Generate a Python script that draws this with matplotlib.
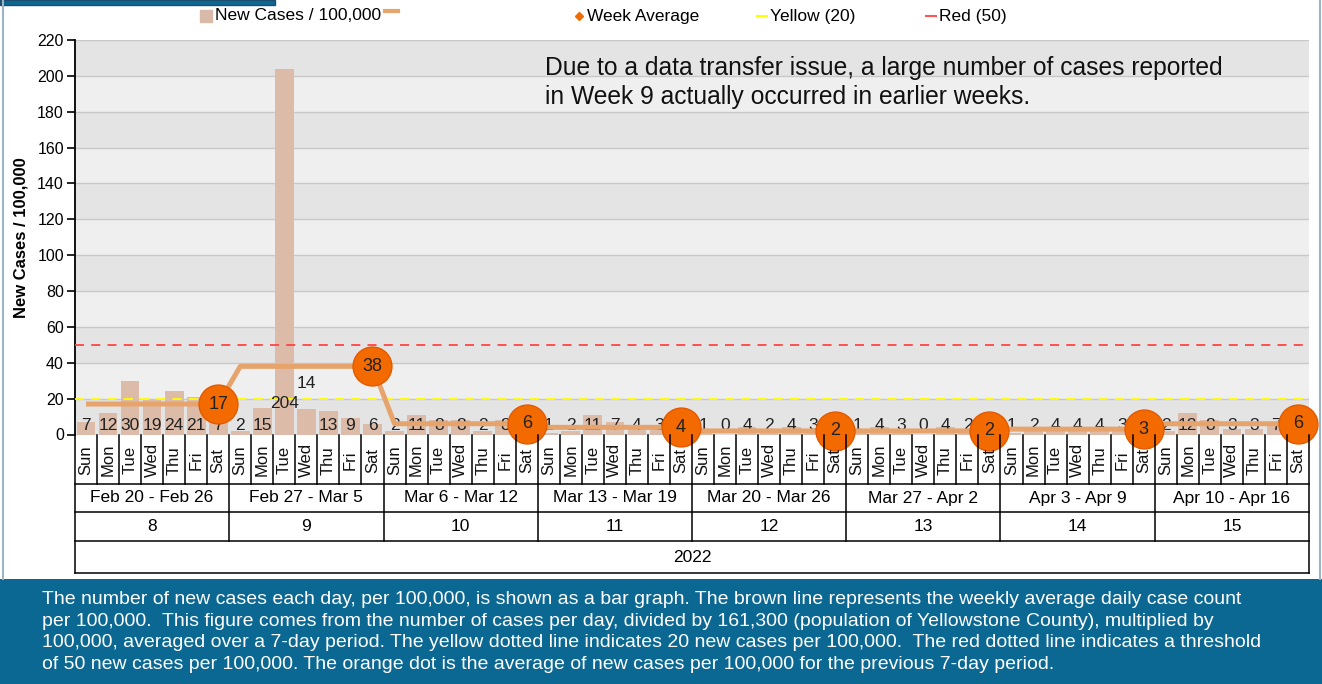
import numpy as np
import matplotlib
matplotlib.use("Agg")
import matplotlib.pyplot as plt

plt.rcParams["font.family"] = ["Liberation Sans", "DejaVu Sans"]

# ---- data ----
weeks = ["8", "9", "10", "11", "12", "13", "14", "15"]
week_ranges = ["Feb 20 - Feb 26", "Feb 27 - Mar 5", "Mar 6 - Mar 12", "Mar 13 - Mar 19",
               "Mar 20 - Mar 26", "Mar 27 - Apr 2", "Apr 3 - Apr 9", "Apr 10 - Apr 16"]
days = ["Sun", "Mon", "Tue", "Wed", "Thu", "Fri", "Sat"]
year = "2022"
new_cases = [7, 12, 30, 19, 24, 21, 7,
             2, 15, 204, 14, 13, 9, 6,
             2, 11, 8, 8, 2, 8, 3,
             1, 2, 11, 7, 4, 3, 0,
             1, 0, 4, 2, 4, 3, 0,
             1, 4, 3, 0, 4, 2, 0,
             1, 2, 4, 4, 4, 3, 3,
             2, 12, 8, 3, 3, 7, 7]
week_avg = [17, 38, 6, 4, 2, 2, 3, 6]
yellow_level = 20
red_level = 50

note = ("Due to a data transfer issue, a large number of cases reported\n"
        "in Week 9 actually occurred in earlier weeks.")
footer = ("The number of new cases each day, per 100,000, is shown as a bar graph. The brown line represents the weekly average daily case count\n"
          "per 100,000.  This figure comes from the number of cases per day, divided by 161,300 (population of Yellowstone County), multiplied by\n"
          "100,000, averaged over a 7-day period. The yellow dotted line indicates 20 new cases per 100,000.  The red dotted line indicates a threshold\n"
          "of 50 new cases per 100,000. The orange dot is the average of new cases per 100,000 for the previous 7-day period.")

W, H = 1322, 684
fig = plt.figure(figsize=(W / 100, H / 100), dpi=100)
fig.patch.set_facecolor("white")

n = len(new_cases)
x = np.arange(n)
L, R, T0, B0 = 75, 1309, 40, 434.5

ax = fig.add_axes([L / W, 1 - B0 / H, (R - L) / W, (B0 - T0) / H])
ax.set_xlim(-0.5, n - 0.5)
ax.set_ylim(0, 220)
for k in range(0, 220, 20):
    ax.axhspan(k, k + 20, color="#E4E4E4" if (k // 20) % 2 == 0 else "#EFEFEF", lw=0, zorder=0)
ax.set_yticks(range(0, 221, 20))
ax.grid(axis="y", color="#C8C8C8", lw=1, zorder=1)
ax.set_axisbelow(True)
for s in ["top", "right", "bottom"]:
    ax.spines[s].set_visible(False)
ax.spines["left"].set_linewidth(1.3)
ax.tick_params(axis="y", length=6, width=1.2, labelsize=11.5, pad=2)
ax.set_xticks([])
ax.set_ylabel("New Cases / 100,000", fontsize=12, fontweight="bold")
ax.yaxis.set_label_coords(-0.038, 0.5)

ax.bar(x, new_cases, width=0.85, color="#DCBCA9", edgecolor="none", zorder=2)
ax.axhline(yellow_level, color="#FFFF00", lw=1.3, dashes=(5, 4), zorder=3)
ax.axhline(red_level, color="#FF4444", lw=1.3, dashes=(5, 4), zorder=3)

# bar value labels sit just above the baseline (two in week 9 were shifted)
label_y = np.full(n, 4.8)
label_y[9], label_y[10] = 17.5, 28.5
for xi, v, ly in zip(x, new_cases, label_y):
    ax.text(xi, ly, str(v), ha="center", va="center", fontsize=12.5, color="#222222", zorder=4)

avg_line = np.repeat(week_avg, 7)
ax.plot(x, avg_line, color="#E6A46C", lw=3.6, solid_capstyle="butt", zorder=5)
sat = x[6::7]
ax.plot(sat, week_avg, "o", ms=28, color="#F26A00", mec="#E35A00", mew=1, zorder=6, clip_on=False)
for xs, a in zip(sat, week_avg):
    ax.text(xs, a, str(a), ha="center", va="center", fontsize=13, color="#222222", zorder=7)

# ---- category table under the axis ----
rows = [434.5, 484, 512, 541, 573]
tb = fig.add_axes([L / W, 1 - rows[-1] / H, (R - L) / W, (rows[-1] - rows[0]) / H])
tb.set_xlim(-0.5, n - 0.5)
tb.set_ylim(rows[-1], rows[0])
tb.axis("off")
lk = dict(color="black", lw=1.1, clip_on=False)
for yb in rows[1:]:
    tb.plot([-0.5, n - 0.5], [yb, yb], **lk)
for xe in [-0.5, n - 0.5]:
    tb.plot([xe, xe], [rows[0], rows[-1]], **lk)
for i in range(1, n):
    bottom = rows[3] if i % 7 == 0 else rows[1]
    tb.plot([i - 0.5, i - 0.5], [rows[0], bottom], **lk)
for i in range(n):
    tb.text(i, (rows[0] + rows[1]) / 2 + 1, days[i % 7], rotation=90, ha="center", va="center",
            fontsize=12, color="#111111")
for j in range(len(weeks)):
    cx = j * 7 + 3
    tb.text(cx, (rows[1] + rows[2]) / 2, week_ranges[j], ha="center", va="center", fontsize=12.5)
    tb.text(cx, (rows[2] + rows[3]) / 2, weeks[j], ha="center", va="center", fontsize=12.5)
tb.text((n - 1) / 2, (rows[3] + rows[4]) / 2, year, ha="center", va="center", fontsize=12.5)

# ---- overlay in pixel coords: legend, note, frame, footer ----
ov = fig.add_axes([0, 0, 1, 1], zorder=-1)
ov.set_xlim(0, W)
ov.set_ylim(H, 0)
ov.axis("off")
ov.add_patch(plt.Rectangle((0, 579), W, H - 579, color="#0B6893", lw=0))
ov.add_patch(plt.Rectangle((0, 0), 275, 5, facecolor="#0B6893", edgecolor="#1C4E6E", lw=1))
ov.plot([2.5, 2.5], [0, 579], color="#9DB4C8", lw=1.5)
ov.plot([1320, 1320], [0, 579], color="#9DB4C8", lw=1.5)

ov2 = fig.add_axes([0, 0, 1, 1], zorder=10)
ov2.set_xlim(0, W)
ov2.set_ylim(H, 0)
ov2.axis("off")
leg_fs = 12.5
ov2.plot([206], [16], "s", ms=8, color="#D9BAA8")
ov2.text(215, 16, "New Cases / 100,000", va="center", fontsize=leg_fs)
ov2.plot([385, 398], [11, 11], color="#E6A46C", lw=3)
ov2.plot([579], [16], "D", ms=4, color="#F26A00")
ov2.text(587, 16, "Week Average", va="center", fontsize=leg_fs)
ov2.plot([757, 767], [16, 16], color="#FFFF00", lw=1.5)
ov2.text(770, 16, "Yellow (20)", va="center", fontsize=leg_fs)
ov2.plot([926, 936], [16, 16], color="#FF5555", lw=1.5)
ov2.text(939, 16, "Red (50)", va="center", fontsize=leg_fs)

ov2.text(545, 56, note, va="top", ha="left", fontsize=17.7, linespacing=1.24, color="#111111")
ov2.text(42, 591, footer, va="top", ha="left", fontsize=14, linespacing=1.35, color="white")

fig.savefig("out.png", dpi=100)
